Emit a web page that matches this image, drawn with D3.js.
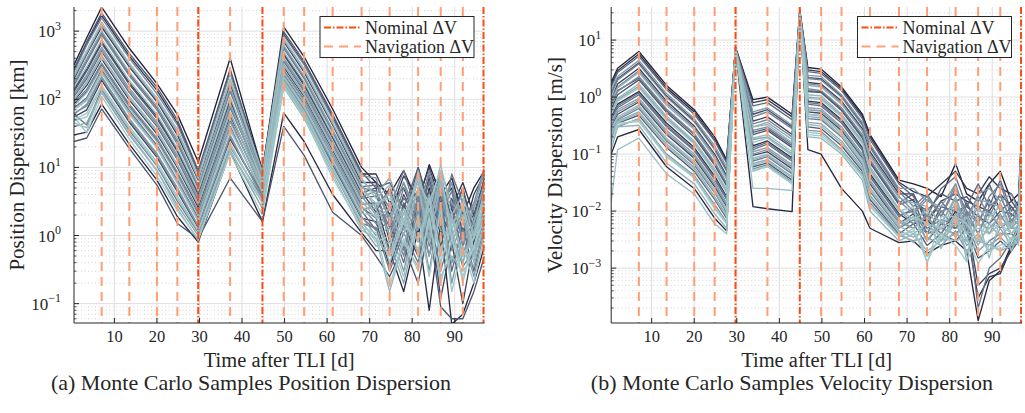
<!DOCTYPE html>
<html><head><meta charset="utf-8">
<script src="https://cdn.jsdelivr.net/npm/d3@7"></script>
<style>
body{margin:0;background:#fff}
svg{display:block}
text{font-family:"Liberation Serif","Times New Roman",serif;fill:#262626}
</style>
</head><body>
<svg id="c" width="1025" height="413"></svg>
<script>
// ---------------- DATA ----------------
const xTicks = [10, 20, 30, 40, 50, 60, 70, 80, 90];
const posTickExps = [-1, 0, 1, 2, 3];
const velTickExps = [-3, -2, -1, 0, 1];
const nominalDV = [29.7, 44.8, 97];
const navigationDV = [7, 13.5, 20, 24.8, 37.2, 49.8, 54.6, 61.3, 68.1, 74.7, 81.4, 86.7, 91.9];
const legendLabels = ["Nominal \u0394V", "Navigation \u0394V"];
const xLabel = "Time after TLI [d]";
const posYLabel = "Position Dispersion [km]";
const velYLabel = "Velocity Dispersion [m/s]";
const captions = ["(a) Monte Carlo Samples Position Dispersion", "(b) Monte Carlo Samples Velocity Dispersion"];

// position dispersion samples [km], sampled at timesPos [d]
const timesPos = [0.5, 3.5, 7, 13.5, 20, 24.8, 29.7, 37.2, 44.8, 49.8, 54.6, 61.3, 68.1, 71.5, 74.7, 78, 81.4, 84, 86.7, 89.3, 91.9, 94.5, 97];
const posSamples = [
  [320, 800, 2250, 560, 170, 60, 12, 400, 9, 1150, 420, 72, 10, 6, 4, 9, 3, 11, 4, 7, 2, 5, 9],
  [30, 33, 85, 22, 6.5, 1.9, 0.8, 17, 1.6, 63, 24, 4, 1.1, 0.6, 0.6, 0.15, 1.2, 0.08, 1.5, 0.05, 0.07, 0.2, 0.7],
  [95, 160, 390, 98, 31, 10, 2.6, 58, 6, 300, 110, 18, 2.9, 3, 0.6, 2.8, 1, 5, 1, 2.5, 0.9, 1.5, 5],
  [270, 650, 1700, 430, 135, 45, 8.5, 260, 9, 900, 330, 55, 8, 8, 3, 5, 1.5, 7, 6, 2.5, 6, 2, 6],
  [200, 460, 1150, 300, 92, 30, 6.5, 170, 7, 700, 250, 42, 6, 6, 2, 7.5, 3.5, 10, 3, 5, 1, 4, 8],
  [55, 70, 190, 46, 14, 4.4, 1.3, 26, 4, 190, 68, 11, 1.8, 1.6, 0.35, 1.4, 0.5, 2.8, 0.12, 0.8, 0.1, 0.8, 2.5],
  [140, 280, 700, 175, 56, 18, 4.3, 100, 6.8, 470, 170, 28, 4.4, 2.2, 5, 1.5, 10, 2.5, 5, 2, 5, 0.8, 8],
  [130, 260, 660, 165, 52, 17, 4, 95, 7, 450, 160, 27, 4.2, 5, 0.8, 4, 1.5, 7, 1.5, 3.5, 1.2, 2, 7],
  [24, 27, 72, 19, 5.5, 1.5, 0.9, 7, 1.6, 40, 15, 2.2, 1, 0.5, 0.25, 0.7, 0.2, 1.4, 0.09, 0.06, 0.06, 0.15, 0.5],
  [280, 700, 1850, 470, 150, 50, 9, 280, 8, 980, 360, 60, 8.5, 5, 6, 2.5, 10, 3, 8, 1.5, 5, 1.2, 7],
  [85, 130, 320, 80, 25, 8, 2.1, 48, 5, 260, 96, 15.5, 2.6, 1.8, 0.6, 3, 1.5, 4.5, 0.7, 2.8, 1.8, 0.6, 2.8],
  [75, 105, 270, 68, 21, 6.5, 1.8, 40, 4, 230, 85, 14, 2.3, 1.2, 1.6, 0.4, 3, 0.5, 4, 0.3, 1.3, 0.3, 1.5],
  [110, 200, 500, 125, 40, 13, 3.2, 75, 6.5, 360, 130, 22, 3.5, 3.8, 1.3, 3.5, 2.2, 6, 2.5, 3, 0.5, 1.8, 6],
  [170, 380, 940, 235, 75, 24, 5.2, 140, 7, 590, 210, 35, 5.2, 5.5, 2.5, 9, 1.8, 6, 1.2, 8, 3, 1, 5],
  [60, 42, 140, 35, 10.5, 3.2, 1.1, 20, 3.5, 175, 62, 10, 1.5, 1.3, 0.3, 1.1, 0.4, 2.2, 0.3, 1.2, 0.35, 0.6, 2],
  [160, 350, 880, 220, 70, 22, 5, 130, 8, 560, 200, 33, 5, 4.5, 1, 5, 2.5, 8, 2, 4.5, 0.7, 2.5, 9],
  [62, 80, 205, 50, 15, 4.7, 1.35, 28, 3.8, 195, 70, 11.5, 1.85, 1.2, 2.5, 0.6, 3.5, 0.7, 1.8, 0.4, 1.2, 0.5, 1.8],
  [90, 140, 340, 85, 27, 8.5, 2.3, 52, 4.5, 270, 100, 16, 2.7, 1.5, 2, 0.5, 4, 0.9, 5, 0.6, 1.6, 0.5, 2],
  [250, 620, 1550, 400, 120, 42, 8, 240, 7.5, 860, 320, 52, 7.5, 7, 1.5, 6, 2, 9, 2.5, 6, 1.5, 3, 10],
  [115, 215, 540, 135, 43, 14, 3.4, 80, 6, 380, 138, 23, 3.7, 4.5, 1.8, 6, 1.2, 4, 2, 6, 0.8, 3, 4],
  [60, 85, 215, 52, 16, 5, 1.4, 30, 3.5, 200, 72, 12, 1.9, 1, 1.3, 0.3, 2.5, 0.3, 3, 0.2, 1, 0.25, 1.2],
  [120, 230, 580, 145, 46, 15, 3.6, 85, 5.5, 400, 145, 24, 3.8, 2, 3, 1, 7, 1.5, 6, 0.7, 2.5, 1, 3],
  [210, 480, 1250, 320, 98, 33, 6.8, 185, 7.5, 740, 265, 44, 6.5, 4, 7, 2, 6, 1.2, 9, 3, 2, 2.5, 9],
  [40, 45, 125, 30, 9, 2.8, 1, 18, 2.5, 165, 58, 9, 1.4, 0.7, 0.8, 0.2, 1.6, 0.5, 2, 0.4, 0.6, 0.35, 1.5],
  [180, 400, 1000, 250, 80, 26, 5.5, 150, 6.5, 620, 220, 36, 5.5, 2.5, 4.5, 1.2, 9, 1.8, 7, 1.2, 3.5, 1.5, 6],
  [72, 100, 255, 64, 20, 6.2, 1.7, 38, 4.2, 220, 82, 13.5, 2.2, 3, 1, 2.5, 0.5, 3, 1.2, 1, 0.4, 1.6, 3.5],
  [80, 125, 300, 75, 24, 7.5, 2, 46, 5, 250, 92, 15, 2.5, 2.5, 0.5, 2.2, 0.8, 4, 0.5, 2, 0.4, 1.2, 4],
  [100, 180, 440, 110, 35, 11, 3, 65, 5, 330, 120, 20, 3.2, 1.8, 2.5, 0.7, 5, 1.2, 8, 1, 2, 0.4, 2.5],
  [98, 170, 415, 104, 33, 10.5, 2.8, 62, 5.5, 315, 115, 19, 3, 2.8, 4, 1, 5, 0.8, 6, 1.5, 2.5, 0.5, 3.5],
  [45, 38, 130, 32, 9, 2.5, 0.85, 17, 3, 150, 52, 8, 1.2, 0.9, 0.15, 0.8, 0.35, 1.5, 0.25, 0.5, 0.3, 0.5, 1.3],
  [230, 520, 1350, 340, 105, 36, 7, 200, 8.5, 780, 280, 46, 7, 3.5, 5.5, 1.5, 8, 2.2, 11, 2, 4, 0.9, 5],
  [48, 55, 150, 37, 11, 3.5, 1.15, 21, 3.2, 170, 60, 9.5, 1.55, 0.9, 0.5, 1.5, 0.9, 2.5, 0.6, 1.8, 0.5, 0.9, 2.2],
  [70, 95, 240, 60, 19, 5.8, 1.6, 35, 4.5, 210, 78, 13, 2.1, 2, 0.4, 1.8, 0.6, 3.5, 0.4, 1.5, 0.2, 1, 3],
  [150, 300, 760, 190, 60, 19, 4.5, 110, 6, 500, 180, 30, 4.6, 3, 3.5, 2, 6, 3, 9, 0.9, 3, 0.6, 4],
  [50, 62, 160, 40, 12, 3.8, 1.2, 23, 3, 185, 66, 10, 1.6, 0.8, 1, 0.25, 2, 0.25, 2.5, 0.15, 0.7, 0.2, 1],
  [55, 32, 110, 26, 7.5, 2.3, 0.9, 16, 2, 155, 55, 7, 1.3, 1.1, 0.18, 0.9, 0.3, 1.8, 0.2, 0.9, 0.25, 0.7, 1.8]
];

// velocity dispersion samples [m/s], sampled at timesVel [d]
const timesVel = [0.5, 2, 7, 13.5, 20, 24.8, 27.6, 29.7, 33.8, 37.2, 43, 44.8, 46.7, 49.8, 54.6, 59.5, 61.3, 68.1, 71.5, 74.7, 78, 81.4, 84, 86.7, 89.3, 91.9, 94.5, 96.2, 97];
const velSamples = [
  [1.8, 3.2, 6.3, 1.6, 0.6, 0.2, 0.08, 7.5, 0.9, 1.0, 0.5, 34, 3.3, 3.1, 1.5, 0.5, 0.22, 0.035, 0.03, 0.025, 0.018, 0.068, 0.02, 0.015, 0.03, 0.05, 0.015, 0.02, 0.35],
  [0.1, 0.2, 0.27, 0.06, 0.025, 0.0075, 0.0045, 6.9, 0.012, 0.011, 0.0098, 30, 0.12, 0.1, 0.025, 0.01, 0.005, 0.0028, 0.003, 0.0018, 0.0025, 0.003, 0.002, 0.00012, 0.0006, 0.0009, 0.0025, 0.004, 0.22],
  [0.45, 0.75, 1.25, 0.35, 0.13, 0.041, 0.018, 7, 0.14, 0.17, 0.085, 31, 0.85, 0.8, 0.4, 0.13, 0.045, 0.009, 0.006, 0.007, 0.004, 0.01, 0.005, 0.0003, 0.0007, 0.0008, 0.0023, 0.005, 0.28],
  [1.6, 2.9, 5.7, 1.45, 0.55, 0.18, 0.075, 7.4, 0.8, 0.9, 0.45, 33, 3.0, 2.8, 1.4, 0.46, 0.2, 0.032, 0.022, 0.018, 0.03, 0.05, 0.025, 0.02, 0.04, 0.025, 0.02, 0.012, 0.34],
  [0.9, 1.7, 3.2, 0.85, 0.31, 0.1, 0.042, 7.3, 0.38, 0.45, 0.22, 30, 1.8, 1.7, 0.85, 0.28, 0.11, 0.02, 0.02, 0.006, 0.015, 0.02, 0.015, 0.012, 0.01, 0.02, 0.012, 0.008, 0.31],
  [0.3, 0.5, 0.82, 0.22, 0.085, 0.027, 0.012, 7, 0.095, 0.11, 0.055, 30, 0.55, 0.52, 0.26, 0.085, 0.03, 0.006, 0.009, 0.003, 0.006, 0.005, 0.007, 0.0005, 0.0008, 0.001, 0.002, 0.004, 0.26],
  [1.2, 2.1, 4.0, 1.05, 0.39, 0.125, 0.053, 7.1, 0.5, 0.6, 0.3, 32, 2.2, 2.1, 1.05, 0.34, 0.14, 0.024, 0.015, 0.01, 0.02, 0.015, 0.018, 0.01, 0.03, 0.01, 0.015, 0.01, 0.31],
  [0.6, 1.1, 2.0, 0.54, 0.2, 0.064, 0.028, 7.1, 0.22, 0.26, 0.13, 31, 1.25, 1.2, 0.58, 0.19, 0.07, 0.013, 0.016, 0.004, 0.012, 0.01, 0.012, 0.008, 0.006, 0.01, 0.009, 0.007, 0.28],
  [0.2, 0.35, 0.48, 0.13, 0.05, 0.016, 0.0075, 7, 0.06, 0.07, 0.035, 30, 0.3, 0.28, 0.14, 0.05, 0.016, 0.004, 0.006, 0.0025, 0.004, 0.003, 0.005, 0.0015, 0.002, 0.003, 0.002, 0.003, 0.24],
  [0.75, 1.3, 2.15, 0.58, 0.22, 0.069, 0.03, 7.2, 0.24, 0.28, 0.14, 31, 1.3, 1.25, 0.62, 0.2, 0.075, 0.014, 0.02, 0.007, 0.015, 0.007, 0.014, 0.006, 0.016, 0.007, 0.012, 0.008, 0.29],
  [1.5, 2.7, 5.2, 1.35, 0.5, 0.17, 0.07, 7.2, 0.7, 0.8, 0.4, 33, 2.8, 2.6, 1.3, 0.42, 0.18, 0.03, 0.018, 0.008, 0.025, 0.04, 0.012, 0.03, 0.012, 0.035, 0.01, 0.015, 0.33],
  [0.4, 0.65, 1.1, 0.3, 0.115, 0.036, 0.016, 6.9, 0.12, 0.15, 0.075, 30, 0.75, 0.7, 0.35, 0.115, 0.04, 0.008, 0.011, 0.005, 0.007, 0.006, 0.009, 0.0002, 0.001, 0.0015, 0.003, 0.006, 0.27],
  [0.42, 0.7, 1.18, 0.32, 0.12, 0.038, 0.017, 7.1, 0.13, 0.16, 0.08, 29, 0.8, 0.75, 0.38, 0.12, 0.042, 0.0085, 0.01, 0.004, 0.01, 0.005, 0.01, 0.004, 0.01, 0.005, 0.007, 0.006, 0.27],
  [0.25, 0.4, 0.63, 0.17, 0.065, 0.021, 0.0095, 7, 0.075, 0.09, 0.045, 30, 0.42, 0.4, 0.2, 0.065, 0.022, 0.005, 0.007, 0.004, 0.005, 0.004, 0.006, 0.002, 0.003, 0.004, 0.004, 0.003, 0.25],
  [1.1, 2.0, 3.8, 1.0, 0.37, 0.12, 0.05, 6.8, 0.45, 0.55, 0.28, 31, 2.1, 2.0, 1.0, 0.32, 0.13, 0.022, 0.012, 0.02, 0.008, 0.025, 0.01, 0.006, 0.018, 0.03, 0.008, 0.012, 0.3],
  [0.95, 1.5, 2.9, 0.78, 0.29, 0.093, 0.039, 7, 0.34, 0.4, 0.2, 30, 1.7, 1.6, 0.8, 0.26, 0.1, 0.018, 0.01, 0.018, 0.008, 0.03, 0.008, 0.018, 0.008, 0.02, 0.006, 0.012, 0.3],
  [0.7, 1.25, 2.3, 0.62, 0.23, 0.073, 0.031, 6.9, 0.26, 0.3, 0.15, 30, 1.4, 1.3, 0.65, 0.22, 0.08, 0.015, 0.009, 0.016, 0.01, 0.012, 0.008, 0.004, 0.012, 0.018, 0.007, 0.009, 0.3],
  [0.17, 0.3, 0.42, 0.1, 0.042, 0.013, 0.0065, 6.9, 0.055, 0.065, 0.032, 29, 0.26, 0.25, 0.12, 0.045, 0.014, 0.0038, 0.003, 0.0035, 0.0025, 0.0045, 0.002, 0.003, 0.0025, 0.0035, 0.0022, 0.0035, 0.23],
  [0.32, 0.55, 0.88, 0.24, 0.092, 0.029, 0.013, 7, 0.1, 0.12, 0.06, 30, 0.6, 0.57, 0.28, 0.092, 0.032, 0.0065, 0.005, 0.008, 0.004, 0.012, 0.004, 0.009, 0.004, 0.009, 0.004, 0.006, 0.26],
  [1.3, 2.3, 4.4, 1.15, 0.42, 0.14, 0.06, 7, 0.55, 0.65, 0.32, 32, 2.4, 2.3, 1.1, 0.36, 0.15, 0.025, 0.025, 0.015, 0.012, 0.03, 0.006, 0.02, 0.025, 0.015, 0.02, 0.01, 0.32],
  [0.35, 0.6, 0.95, 0.26, 0.1, 0.032, 0.014, 7.1, 0.11, 0.13, 0.065, 29, 0.65, 0.62, 0.3, 0.1, 0.035, 0.007, 0.005, 0.009, 0.003, 0.009, 0.003, 0.006, 0.005, 0.008, 0.005, 0.005, 0.26],
  [0.55, 0.9, 1.55, 0.43, 0.16, 0.05, 0.022, 6.9, 0.18, 0.2, 0.1, 30, 1.0, 0.95, 0.48, 0.16, 0.055, 0.0105, 0.006, 0.012, 0.006, 0.018, 0.005, 0.012, 0.006, 0.014, 0.005, 0.007, 0.28],
  [0.22, 0.38, 0.55, 0.15, 0.058, 0.018, 0.0085, 7.2, 0.068, 0.08, 0.04, 29, 0.36, 0.34, 0.17, 0.058, 0.019, 0.0045, 0.0035, 0.005, 0.003, 0.006, 0.0025, 0.004, 0.002, 0.005, 0.0025, 0.004, 0.24],
  [0.8, 1.45, 2.7, 0.72, 0.27, 0.085, 0.036, 7, 0.3, 0.36, 0.18, 29, 1.6, 1.5, 0.75, 0.25, 0.09, 0.017, 0.014, 0.012, 0.006, 0.016, 0.004, 0.016, 0.014, 0.012, 0.005, 0.01, 0.29],
  [0.26, 0.42, 0.68, 0.18, 0.07, 0.022, 0.01, 7.2, 0.08, 0.095, 0.048, 31, 0.46, 0.43, 0.21, 0.07, 0.024, 0.0052, 0.008, 0.003, 0.007, 0.0035, 0.008, 0.0025, 0.006, 0.0035, 0.006, 0.004, 0.25],
  [0.12, 0.3, 0.32, 0.07, 0.03, 0.009, 0.005, 7.1, 0.3, 0.33, 0.16, 31, 0.2, 0.19, 0.1, 0.035, 0.01, 0.003, 0.004, 0.002, 0.003, 0.004, 0.003, 0.002, 0.003, 0.002, 0.0025, 0.003, 0.22],
  [0.55, 0.95, 1.7, 0.46, 0.17, 0.055, 0.024, 6.8, 0.19, 0.22, 0.11, 29, 1.1, 1.05, 0.5, 0.17, 0.06, 0.011, 0.007, 0.01, 0.005, 0.014, 0.0013, 0.01, 0.009, 0.006, 0.006, 0.008, 0.29],
  [0.21, 0.36, 0.52, 0.14, 0.054, 0.017, 0.008, 7, 0.064, 0.075, 0.038, 30, 0.33, 0.31, 0.155, 0.054, 0.018, 0.0042, 0.0028, 0.007, 0.0022, 0.008, 0.0018, 0.007, 0.0015, 0.007, 0.002, 0.004, 0.24],
  [0.28, 0.45, 0.72, 0.19, 0.075, 0.024, 0.011, 6.8, 0.085, 0.1, 0.05, 31, 0.5, 0.46, 0.23, 0.075, 0.026, 0.0055, 0.004, 0.006, 0.0035, 0.007, 0.004, 0.005, 0.004, 0.006, 0.003, 0.005, 0.25],
  [0.015, 0.12, 0.19, 0.045, 0.02, 0.006, 0.004, 7, 0.025, 0.025, 0.023, 29, 0.5, 0.48, 0.24, 0.08, 0.025, 0.006, 0.008, 0.006, 0.005, 0.007, 0.004, 0.003, 0.005, 0.006, 0.004, 0.005, 0.21],
  [0.5, 0.85, 1.45, 0.4, 0.15, 0.047, 0.021, 7.2, 0.16, 0.19, 0.095, 30, 0.95, 0.9, 0.45, 0.15, 0.05, 0.01, 0.012, 0.0012, 0.008, 0.008, 0.006, 0.003, 0.008, 0.012, 0.004, 0.006, 0.27],
  [0.16, 0.32, 0.4, 0.095, 0.04, 0.012, 0.0062, 6.9, 0.052, 0.062, 0.031, 29, 0.24, 0.23, 0.115, 0.042, 0.013, 0.0036, 0.0045, 0.0016, 0.0035, 0.003, 0.0035, 0.0012, 0.0025, 0.002, 0.0035, 0.0025, 0.23],
  [0.15, 0.35, 0.37, 0.09, 0.038, 0.011, 0.006, 7, 0.05, 0.06, 0.03, 30, 0.22, 0.21, 0.11, 0.04, 0.012, 0.0035, 0.005, 0.0013, 0.004, 0.0025, 0.0013, 0.0035, 0.002, 0.0025, 0.003, 0.004, 0.23]
];

// ---------------- DRAWING ----------------
const svg = d3.select("#c");
const shade = d3.interpolateRgbBasis(["#22223a", "#66708a", "#8fa9b3", "#a2caca"]);

function panel(cfg) {
  const g = svg.append("g");
  const x = d3.scaleLinear().domain([0.5, 97]).range([cfg.x0, cfg.x1]);
  const y = d3.scaleLog().domain(cfg.yDomain).range([cfg.y1, cfg.y0]);
  const clipId = "clip" + cfg.id;
  svg.append("defs").append("clipPath").attr("id", clipId)
    .append("rect").attr("x", cfg.x0).attr("y", cfg.y0)
    .attr("width", cfg.x1 - cfg.x0).attr("height", cfg.y1 - cfg.y0);

  // grid
  const grid = g.append("g");
  const [lo, hi] = cfg.yDomain;
  const minor = [], major = [];
  for (let e = Math.floor(Math.log10(lo)); e <= Math.ceil(Math.log10(hi)); e++) {
    for (let m = 1; m <= 9; m++) {
      const v = m * Math.pow(10, e);
      if (v < lo || v > hi) continue;
      (m === 1 ? major : minor).push(v);
    }
  }
  grid.selectAll(".mn").data(minor).join("line")
    .attr("x1", cfg.x0).attr("x2", cfg.x1)
    .attr("y1", d => y(d)).attr("y2", d => y(d))
    .attr("stroke", "#c8c8c8").attr("stroke-width", 0.8).attr("stroke-dasharray", "1,2.5");
  grid.selectAll(".mj").data(major).join("line")
    .attr("x1", cfg.x0).attr("x2", cfg.x1)
    .attr("y1", d => y(d)).attr("y2", d => y(d))
    .attr("stroke", "#dedede").attr("stroke-width", 1);
  grid.selectAll(".vx").data(xTicks).join("line")
    .attr("x1", d => x(d)).attr("x2", d => x(d))
    .attr("y1", cfg.y0).attr("y2", cfg.y1)
    .attr("stroke", "#dedede").attr("stroke-width", 1);

  // sample lines
  const line = d3.line().x((d, i) => x(cfg.times[i])).y(d => y(d));
  const n = cfg.samples.length;
  g.append("g").attr("clip-path", `url(#${clipId})`)
    .selectAll("path").data(cfg.samples).join("path")
    .attr("d", d => line(d))
    .attr("fill", "none")
    .attr("stroke", (d, i) => shade(i / (n - 1)))
    .attr("stroke-width", 1.35)
    .attr("stroke-linejoin", "round");

  // maneuver lines
  const man = g.append("g");
  man.selectAll(".nav").data(navigationDV).join("line")
    .attr("x1", d => x(d)).attr("x2", d => x(d))
    .attr("y1", cfg.y0).attr("y2", cfg.y1)
    .attr("stroke", "#ff9f75").attr("stroke-width", 2)
    .attr("stroke-dasharray", "9,6");
  man.selectAll(".nom").data(nominalDV).join("line")
    .attr("x1", d => Math.min(x(d), cfg.x1 - 1)).attr("x2", d => Math.min(x(d), cfg.x1 - 1))
    .attr("y1", cfg.y0).attr("y2", cfg.y1)
    .attr("stroke", "#ff4a10").attr("stroke-width", 2)
    .attr("stroke-dasharray", "7,2,1.5,2");

  // axes (left + bottom), inward ticks
  const ax = g.append("g").attr("stroke", "#262626");
  ax.append("line").attr("x1", cfg.x0).attr("x2", cfg.x0).attr("y1", cfg.y0).attr("y2", cfg.y1).attr("stroke-width", 1);
  ax.append("line").attr("x1", cfg.x0).attr("x2", cfg.x1).attr("y1", cfg.y1).attr("y2", cfg.y1).attr("stroke-width", 1);
  ax.selectAll(".ymj").data(major).join("line")
    .attr("x1", cfg.x0).attr("x2", cfg.x0 + 5).attr("y1", d => y(d)).attr("y2", d => y(d)).attr("stroke-width", 1);
  ax.selectAll(".ymn").data(minor).join("line")
    .attr("x1", cfg.x0).attr("x2", cfg.x0 + 2.5).attr("y1", d => y(d)).attr("y2", d => y(d)).attr("stroke-width", 0.8);
  ax.selectAll(".xt").data(xTicks).join("line")
    .attr("x1", d => x(d)).attr("x2", d => x(d)).attr("y1", cfg.y1).attr("y2", cfg.y1 - 5).attr("stroke-width", 1);

  // tick labels
  g.selectAll(".xl").data(xTicks).join("text")
    .attr("x", d => x(d)).attr("y", cfg.y1 + 19)
    .attr("text-anchor", "middle").attr("font-size", 16.5).text(d => d);
  cfg.tickExps.forEach(e => {
    const t = g.append("text").attr("x", cfg.x0 - cfg.labelGap).attr("y", y(Math.pow(10, e)) + 6)
      .attr("text-anchor", "end").attr("font-size", 17);
    t.append("tspan").text("10");
    t.append("tspan").attr("dy", -7.5).attr("font-size", 12).text(e < 0 ? "\u2212" + (-e) : String(e));
  });

  // axis titles
  g.append("text").attr("x", (cfg.x0 + cfg.x1) / 2).attr("y", cfg.y1 + 44)
    .attr("text-anchor", "middle").attr("font-size", 20.5).text(xLabel);
  g.append("text").attr("transform", `translate(${cfg.yTitleX},${(cfg.y0 + cfg.y1) / 2}) rotate(-90)`)
    .attr("text-anchor", "middle").attr("font-size", 21).text(cfg.yLabel);

  // legend
  const lx = cfg.x1 - 164.5, ly = 16.5;
  const lg = g.append("g");
  lg.append("rect").attr("x", lx).attr("y", ly).attr("width", 154).attr("height", 41)
    .attr("fill", "#fff").attr("stroke", "#262626").attr("stroke-width", 1);
  const rows = [
    { label: legendLabels[0], color: "#ff4a10", dash: "7,2,1.5,2" },
    { label: legendLabels[1], color: "#ff9f75", dash: "9,6" }
  ];
  rows.forEach((r, i) => {
    const cy = ly + 11 + i * 19;
    lg.append("line").attr("x1", lx + 4).attr("x2", lx + 41).attr("y1", cy).attr("y2", cy)
      .attr("stroke", r.color).attr("stroke-width", 2).attr("stroke-dasharray", r.dash);
    lg.append("text").attr("x", lx + 45).attr("y", cy + 6).attr("font-size", 18).text(r.label);
  });

  // caption
  g.append("text").attr("x", cfg.capX).attr("y", 390)
    .attr("text-anchor", "middle").attr("font-size", 22).text(cfg.caption);
}

panel({ id: "p", x0: 74, x1: 484.5, y0: 7, y1: 323, yDomain: [0.052, 2260],
  times: timesPos, samples: posSamples, tickExps: posTickExps, labelGap: 13,
  yLabel: posYLabel, yTitleX: 24, caption: captions[0], capX: 251 });
panel({ id: "v", x0: 611.2, x1: 1022, y0: 7, y1: 323, yDomain: [1.09e-4, 38],
  times: timesVel, samples: velSamples, tickExps: velTickExps, labelGap: 10,
  yLabel: velYLabel, yTitleX: 562, caption: captions[1], capX: 792 });
</script>
</body></html>
